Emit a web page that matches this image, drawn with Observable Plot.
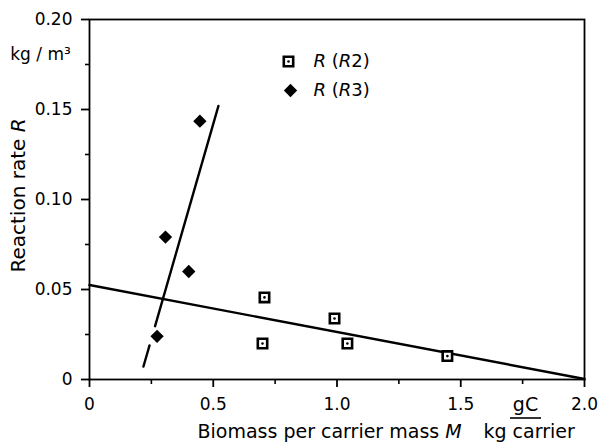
<!DOCTYPE html>
<html><head><meta charset="utf-8">
<script src="https://cdn.jsdelivr.net/npm/d3@7"></script>
<script src="https://cdn.jsdelivr.net/npm/@observablehq/plot@0.6"></script>
<style>body{margin:0;background:#fff} svg{display:block}</style>
</head><body><div id="chart"></div>
<script>
// Data
const r2M = [0.707, 0.699, 0.990, 1.042, 1.446];
const r2R = [0.0456, 0.0200, 0.0339, 0.0200, 0.0130];
const r3M = [0.273, 0.307, 0.401, 0.446];
const r3R = [0.0240, 0.0791, 0.0600, 0.1435];
const r2FitM = [0, 2.0];
const r2FitR = [0.0525, 0.0003];
const r3FitM = [0.218, 0.521];
const r3FitR = [0.0072, 0.152];
const xMajor = [0, 0.5, 1.0, 1.5, 2.0];
const xMinor = [0.25, 0.75, 1.25, 1.75];
const yMajor = [0, 0.05, 0.10, 0.15, 0.20];
const yMinor = [0.025, 0.075, 0.125, 0.175];
const xTickLabels = ["0", "0.5", "1.0", "1.5", "2.0"];
const yTickLabels = ["0", "0.05", "0.10", "0.15", "0.20"];
const seriesLabels = ["R (R2)", "R (R3)"];

const r2 = r2M.map((m, i) => ({m, r: r2R[i]}));
const r3 = r3M.map((m, i) => ({m, r: r3R[i]}));
const r2Fit = r2FitM.map((m, i) => ({m, r: r2FitR[i]}));
const r3Fit = r3FitM.map((m, i) => ({m, r: r3FitR[i]}));

const plot = Plot.plot({
  width: 602, height: 444,
  marginLeft: 89, marginRight: 18, marginTop: 19, marginBottom: 65,
  style: {fontFamily: "DejaVu Sans", fontSize: "17px", background: "#fff", color: "#000"},
  x: {domain: [0, 2], label: null},
  y: {domain: [0, 0.2], label: null},
  marks: [
    Plot.frame({stroke: "#000", strokeWidth: 1.8}),
    Plot.axisX({ticks: xMajor, tickFormat: d => xTickLabels[xMajor.indexOf(d)], tickSize: 8, tickPadding: 10, strokeWidth: 1.8, label: null}),
    Plot.axisX({ticks: xMinor, tickFormat: () => "", tickSize: 5, strokeWidth: 1.6, label: null}),
    Plot.axisY({ticks: yMajor, tickFormat: d => yTickLabels[yMajor.indexOf(d)], tickSize: 8, tickPadding: 9, strokeWidth: 1.8, label: null}),
    Plot.axisY({ticks: yMinor, tickFormat: () => "", tickSize: 4, strokeWidth: 1.6, label: null}),
    Plot.line(r2Fit, {x: "m", y: "r", stroke: "#000", strokeWidth: 2.4}),
    Plot.line(r3Fit, {x: "m", y: "r", stroke: "#000", strokeWidth: 2.4, strokeDasharray: "22,20,400"}),
    Plot.dot(r2, {x: "m", y: "r", symbol: "square", r: 5.3, fill: "#fff", stroke: "#000", strokeWidth: 2.6}),
    Plot.dot(r2, {x: "m", y: "r", r: 1.3, fill: "#000"}),
    Plot.dot(r3, {x: "m", y: "r", symbol: "diamond2", r: 6, fill: "#000"}),
    // legend
    Plot.dot([0], {frameAnchor: "top-left", dx: 199, dy: 42, symbol: "square", r: 5.3, fill: "#fff", stroke: "#000", strokeWidth: 2.6}),
    Plot.dot([0], {frameAnchor: "top-left", dx: 199, dy: 42, r: 1.3, fill: "#000"}),
    Plot.dot([0], {frameAnchor: "top-left", dx: 201, dy: 71, symbol: "diamond2", r: 6, fill: "#000"}),
    Plot.text([seriesLabels[0]], {frameAnchor: "top-left", text: d => d, dx: 224, dy: 42, textAnchor: "start", lineAnchor: "middle", fontSize: 18}),
    Plot.text([seriesLabels[1]], {frameAnchor: "top-left", text: d => d, dx: 224, dy: 71, textAnchor: "start", lineAnchor: "middle", fontSize: 18}),
    // axis titles
    Plot.text(["Reaction rate R"], {frameAnchor: "left", text: d => d, rotate: -90, dx: -71, dy: -4, textAnchor: "middle", lineAnchor: "middle", fontSize: 20}),
    Plot.text(["kg / m³"], {frameAnchor: "top-left", text: d => d, dx: -49, dy: 35, textAnchor: "middle", lineAnchor: "middle", fontSize: 17}),
    Plot.text(["Biomass per carrier mass M"], {frameAnchor: "bottom-left", text: d => d, dx: 108, dy: 52, textAnchor: "start", lineAnchor: "middle", fontSize: 19}),
    Plot.text(["kg carrier"], {frameAnchor: "bottom-left", text: d => d, dx: 394, dy: 52, textAnchor: "start", lineAnchor: "middle", fontSize: 19}),
    Plot.text(["gC"], {frameAnchor: "bottom-left", text: d => d, dx: 436, dy: 25, textAnchor: "middle", lineAnchor: "middle", fontSize: 19})
  ]
});

// italic symbols inside labels
const svg = d3.select(plot);
const italicMap = {
  "R (R2)": [["R", true], [" (", false], ["R", true], ["2)", false]],
  "R (R3)": [["R", true], [" (", false], ["R", true], ["3)", false]],
  "Reaction rate R": [["Reaction rate ", false], ["R", true]],
  "Biomass per carrier mass M": [["Biomass per carrier mass ", false], ["M", true]]
};
svg.selectAll("text").each(function() {
  const t = this.textContent;
  if (italicMap[t] && this.childElementCount === 0) {
    const sel = d3.select(this);
    sel.text(null);
    italicMap[t].forEach(([s, it]) => {
      sel.append("tspan").attr("font-style", it ? "italic" : null).text(s);
    });
  }
});
// fraction bar under gC
svg.append("line").attr("x1", 510).attr("x2", 541).attr("y1", 418).attr("y2", 418)
  .attr("stroke", "#000").attr("stroke-width", 1.6);

document.getElementById("chart").appendChild(plot);
</script>
</body></html>
